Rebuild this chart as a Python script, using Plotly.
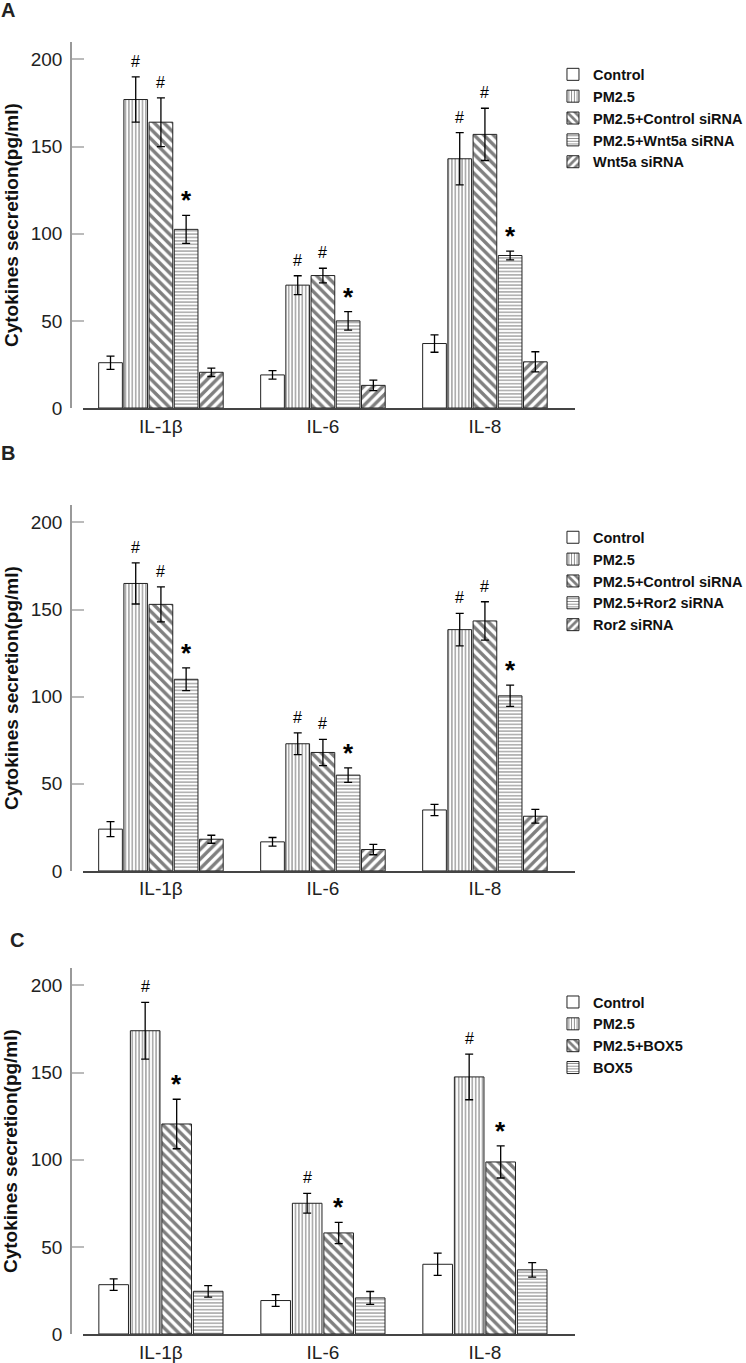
import plotly.graph_objects as go

cytokines = ["IL-1β", "IL-6", "IL-8"]

# panel A: Wnt5a siRNA
groups_a = ["Control", "PM2.5", "PM2.5+Control siRNA", "PM2.5+Wnt5a siRNA", "Wnt5a siRNA"]
means_a = [[26, 19, 37], [177, 70.5, 143], [164, 76, 157], [102.5, 50, 87.5], [20.5, 13, 26.5]]
errs_a = [[3.8, 2.4, 5], [13, 5.4, 15], [14, 4.2, 15], [8, 5.3, 2.5], [2.4, 3, 5.8]]
marks_a = ["", "#", "#", "*", ""]

# panel B: Ror2 siRNA
groups_b = ["Control", "PM2.5", "PM2.5+Control siRNA", "PM2.5+Ror2 siRNA", "Ror2 siRNA"]
means_b = [[24, 16.7, 35], [165, 73, 138.5], [153, 68, 143.5], [110, 55, 100.5], [18.2, 12.3, 31.4]]
errs_b = [[4.3, 2.5, 3.2], [11.8, 6.2, 9.3], [10, 7.5, 11], [6.5, 4.2, 6.1], [2.3, 3, 3.9]]
marks_b = ["", "#", "#", "*", ""]

# panel C: BOX5
groups_c = ["Control", "PM2.5", "PM2.5+BOX5", "BOX5"]
means_c = [[28.3, 19.2, 40], [174, 75, 147.5], [120.5, 58, 98.7], [24.5, 20.7, 36.8]]
errs_c = [[3.3, 3.4, 6.4], [16.3, 5.7, 13.1], [14.2, 6.1, 9.2], [3.3, 3.7, 4.2]]
marks_c = ["", "#", "*", ""]

patterns = ["", "|", "\\", "-", "/"]
psize = {"": 8, "|": 3.4, "-": 3.4, "\\": 6.8, "/": 6.8}
psolid = {"": 0.3, "|": 0.32, "-": 0.3, "\\": 0.5, "/": 0.5}

FONT = "Arial, 'Liberation Sans', sans-serif"
BARGAP = 0.222
x_pos = [0, 1, 2]

# label, groups, means, errors, marks, axis suffix, y domain, legend top, panel letter pos
panels = [
    ("A", groups_a, means_a, errs_a, marks_a, "", [0.7167, 1.0], 0.9873, (-0.125, 1.0248)),
    ("B", groups_b, means_b, errs_b, marks_b, "2", [0.3584, 0.6416], 0.629, (-0.125, 0.6819)),
    ("C", groups_c, means_c, errs_c, marks_c, "3", [0.0, 0.2833], 0.2693, (-0.107, 0.305)),
]

fig = go.Figure()
annots = []
for label, groups, means, errs, marks, ax, ydom, legy, lpos in panels:
    leg = "legend" + ax
    n = len(groups)
    slot = (1 - BARGAP) / n
    for k, g in enumerate(groups):
        shp = patterns[k]
        fig.add_trace(go.Bar(
            x=x_pos, y=means[k], name=g,
            xaxis="x" + ax, yaxis="y" + ax, legend=leg,
            marker=dict(color="white", line=dict(color="#222", width=1),
                        pattern=dict(shape=shp, fgcolor="black", bgcolor="white",
                                     size=psize[shp], solidity=psolid[shp])),
            error_y=dict(type="data", array=errs[k], color="black", thickness=1.3, width=4),
        ))
        if marks[k]:
            off = (k - (n - 1) / 2) * slot
            for i in range(3):
                star = marks[k] == "*"
                annots.append(dict(
                    x=x_pos[i] + off, y=means[k][i] + errs[k][i],
                    xref="x" + ax, yref="y" + ax, text=marks[k], showarrow=False,
                    yanchor="bottom", yshift=-2 if star else 5,
                    font=dict(family=FONT, size=26 if star else 16, color="black",
                              weight="bold" if star else "normal"),
                ))
    ymid = (ydom[0] + ydom[1]) / 2
    annots.append(dict(x=-0.119, y=ymid, xref="paper", yref="paper", textangle=-90,
                       text="<b>Cytokines secretion(pg/ml)</b>", showarrow=False,
                       xanchor="center", yanchor="middle",
                       font=dict(family=FONT, size=19, color="#111")))
    annots.append(dict(x=lpos[0], y=lpos[1], xref="paper", yref="paper",
                       text="<b>%s</b>" % label, showarrow=False,
                       xanchor="center", yanchor="middle",
                       font=dict(family=FONT, size=20, color="#222")))
    fig.update_layout({
        "xaxis" + ax: dict(domain=[12 / 504, 1], anchor="y" + ax, range=[-0.481, 2.556],
                           tickvals=x_pos, ticktext=cytokines, ticks="", showline=True,
                           linecolor="#444", linewidth=1.5, showgrid=False, zeroline=False,
                           tickfont=dict(family=FONT, size=19, color="#222")),
        "yaxis" + ax: dict(domain=ydom, anchor="free", position=0, range=[0, 210],
                           tickvals=[0, 50, 100, 150, 200], ticks="inside", ticklen=12,
                           tickcolor="#bbb", tickwidth=1.5, showline=True, linecolor="#999",
                           linewidth=1.5, showgrid=False, zeroline=False, ticklabelstandoff=4,
                           tickfont=dict(family=FONT, size=19, color="#222")),
        leg: dict(x=0.9563, y=legy, xanchor="left", yanchor="top", bgcolor="rgba(0,0,0,0)",
                  font=dict(family=FONT, size=14.5, color="#111", weight="bold"),
                  itemclick=False),
    })

fig.update_layout(
    width=746, height=1363,
    margin=dict(l=71, r=171, t=42, b=29, autoexpand=False),
    barmode="group", bargap=BARGAP, bargroupgap=0.06,
    plot_bgcolor="white", paper_bgcolor="white",
    annotations=annots, showlegend=True,
)

# page margin off so the figure sits at the window's top-left corner
fig.write_html("out.html", config={"displayModeBar": False},
               post_script="document.body.style.margin='0';")
